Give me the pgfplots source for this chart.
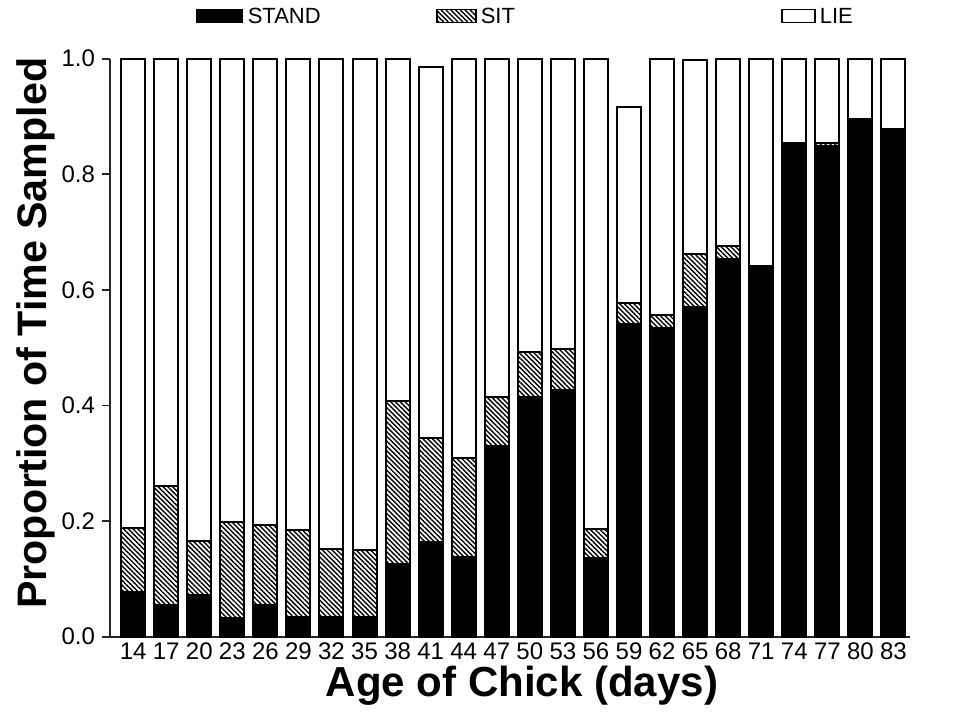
\documentclass[border=0pt]{standalone}
\usepackage{fontspec}
\setmainfont{Liberation Sans}
\usepackage{pgfplots}
\usepackage{pgfplotstable}
\pgfplotsset{compat=1.18}
\usetikzlibrary{patterns.meta}

% age, then the three stacked parts (proportions)
\pgfplotstableread{
age stand sit   lie
14  0.078 0.110 0.812
17  0.055 0.205 0.740
20  0.073 0.092 0.835
23  0.032 0.166 0.802
26  0.055 0.139 0.806
29  0.034 0.151 0.815
32  0.034 0.117 0.849
35  0.034 0.116 0.850
38  0.126 0.282 0.592
41  0.163 0.180 0.643
44  0.138 0.171 0.691
47  0.330 0.084 0.586
50  0.415 0.078 0.507
53  0.426 0.072 0.502
56  0.136 0.050 0.814
59  0.541 0.036 0.339
62  0.534 0.022 0.444
65  0.570 0.092 0.336
68  0.653 0.023 0.324
71  0.640 0.002 0.358
74  0.854 0.000 0.146
77  0.849 0.006 0.145
80  0.895 0.000 0.105
83  0.878 0.000 0.122
}\behav

\tikzset{sithatch/.style={pattern={Lines[angle=-45,distance=1.7pt,line width=0.7pt]}}}

\begin{document}
\begin{tikzpicture}
\begin{axis}[
    scale only axis,
    width=400pt, height=289pt,
    ybar stacked,
    bar width=12pt,
    xmin=11.9, xmax=84.5,
    ymin=0, ymax=1,
    axis x line*=bottom,
    axis y line*=left,
    axis line style={line width=0.9pt, black!85},
    xtick=data,
    x tick style={draw=none},
    ytick={0,0.2,0.4,0.6,0.8,1},
    y tick style={line width=0.9pt, black!85},
    tick align=outside,
    major tick length=4pt,
    tick label style={font=\fontsize{12}{14}\selectfont},
    xticklabel style={text height=1.4ex, text depth=0pt, anchor=north, yshift=3.5pt},
    yticklabel style={/pgf/number format/.cd, fixed, fixed zerofill, precision=1},
    /pgf/number format/assume math mode=true,
    xlabel={Age of Chick (days)},
    ylabel={Proportion of Time Sampled},
    xlabel style={font=\fontsize{21}{25}\selectfont\bfseries,
        at={(axis description cs:0.515,-0.085)}, anchor=center},
    ylabel style={font=\fontsize{20.6}{25}\selectfont\bfseries,
        at={(axis description cs:-0.0925,0.525)}, anchor=center, rotate=0},
    every axis plot/.append style={draw=black, line width=1pt},
    clip=false,
]
\addplot[fill=black] table[x=age, y=stand] {\behav};
\addplot[sithatch] table[x=age, y=sit] {\behav};
\addplot[fill=white] table[x=age, y=lie] {\behav};
\end{axis}

% legend across the top
\begin{scope}[line width=0.8pt, font=\fontsize{11}{13}\selectfont]
\draw[fill=black] (43.5pt,307pt) rectangle (66pt,313.5pt);
\node[anchor=west, inner sep=0pt] at (68.5pt,310.5pt) {STAND};
\draw[sithatch] (163.5pt,307pt) rectangle (183pt,313.5pt);
\node[anchor=west, inner sep=0pt] at (185pt,310.5pt) {SIT};
\draw[fill=white] (336pt,307pt) rectangle (352.5pt,313.5pt);
\node[anchor=west, inner sep=0pt] at (354.5pt,310.5pt) {LIE};
\end{scope}

\pgfresetboundingbox
\path[use as bounding box] (-55pt,-40.65pt) rectangle (432pt,318.35pt);
\end{tikzpicture}
\end{document}
